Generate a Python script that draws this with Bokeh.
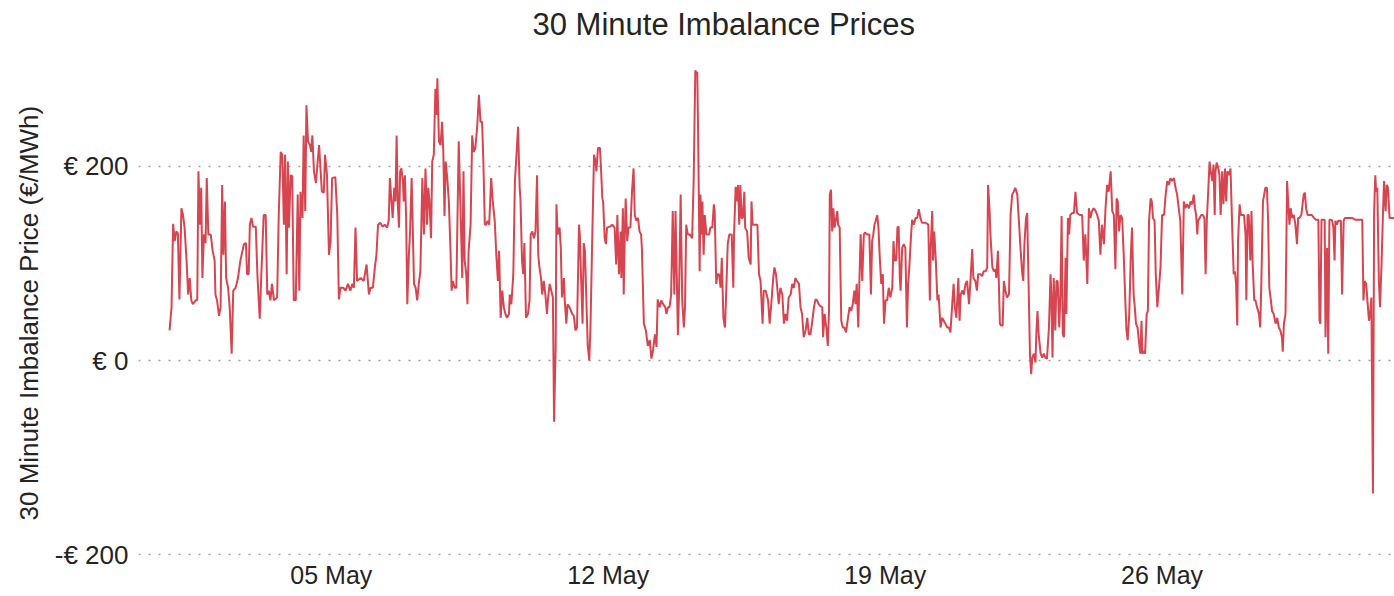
import pandas as pd
from bokeh.plotting import figure
from bokeh.models import Range1d, FixedTicker, ColumnDataSource, Label, Title
from bokeh.embed import file_html
from bokeh.resources import INLINE

# ---- data: (day offset from 01 May 00:00, imbalance price EUR/MWh) ----
week1 = [(-0.09,31),(-0.04,55),(0.00,141),(0.04,123),(0.08,133),(0.12,131),(0.16,63),(0.21,157),(0.25,150),(0.29,137),(0.34,103),(0.38,68),(0.42,85),(0.46,62),(0.50,58),(0.57,62),(0.61,62),(0.64,195),(0.68,140),(0.71,178),(0.74,85),(0.78,130),(0.82,121),(0.85,188),(0.89,130),(0.95,130),(1.00,113),(1.05,103),(1.07,68),(1.11,62),(1.16,46),(1.20,55),(1.24,181),(1.27,109),(1.31,164),(1.34,85),(1.39,75),(1.43,55),(1.48,7),(1.52,72),(1.58,75),(1.64,85),(1.70,103),(1.79,120),(1.84,121),(1.87,89),(1.91,89),(1.94,140),(1.98,147),(2.02,138),(2.09,138),(2.13,89),(2.16,65),(2.19,43),(2.23,89),(2.29,150),(2.34,150),(2.38,68),(2.42,72),(2.46,62),(2.50,79),(2.55,62),(2.63,65),(2.67,150),(2.72,215),(2.76,212),(2.80,140),(2.83,212),(2.87,89),(2.90,205),(2.93,137),(2.97,191),(3.01,190),(3.05,62),(3.10,62),(3.15,171),(3.19,72),(3.22,174),(3.27,147),(3.30,232),(3.34,154),(3.37,263),(3.41,226),(3.46,222),(3.49,215),(3.52,232),(3.56,195),(3.61,183),(3.66,208),(3.69,222),(3.73,195),(3.76,174),(3.81,173),(3.84,212),(3.89,191),(3.94,109),(3.98,123),(4.02,188),(4.10,189),(4.15,150),(4.19,63),(4.23,75),(4.30,75),(4.36,72),(4.42,79),(4.48,72),(4.53,79),(4.57,75),(4.61,137),(4.65,82),(4.74,85),(4.82,82),(4.89,99),(4.95,68)]

week2 = [(4.99,75),(5.05,75),(5.10,96),(5.14,109),(5.18,140),(5.24,142),(5.29,138),(5.35,140),(5.41,137),(5.45,144),(5.48,188),(5.52,164),(5.55,147),(5.59,178),(5.62,164),(5.65,232),(5.68,161),(5.71,137),(5.74,195),(5.77,198),(5.81,185),(5.83,164),(5.86,191),(5.89,147),(5.92,58),(5.96,109),(5.99,133),(6.03,188),(6.06,133),(6.09,79),(6.13,75),(6.17,62),(6.21,79),(6.25,92),(6.30,188),(6.34,130),(6.38,198),(6.42,140),(6.45,178),(6.48,164),(6.52,126),(6.55,205),(6.59,212),(6.63,280),(6.66,253),(6.68,291),(6.72,226),(6.76,222),(6.80,246),(6.83,215),(6.86,149),(6.89,205),(6.93,188),(6.97,164),(7.01,116),(7.04,72),(7.07,82),(7.12,75),(7.16,75),(7.19,150),(7.22,226),(7.26,164),(7.31,85),(7.34,195),(7.37,103),(7.41,89),(7.44,58),(7.47,113),(7.52,140),(7.56,232),(7.60,215),(7.64,219),(7.69,243),(7.73,274),(7.77,246),(7.81,246),(7.84,209),(7.88,140),(7.91,140),(7.95,144),(7.99,140),(8.04,188),(8.08,164),(8.13,144),(8.17,109),(8.21,82),(8.24,113),(8.28,44),(8.32,72),(8.36,55),(8.40,48),(8.44,44),(8.49,48),(8.51,68),(8.55,58),(8.60,89),(8.64,185),(8.67,205),(8.72,241),(8.76,178),(8.78,167),(8.82,103),(8.85,89),(8.88,121),(8.92,44),(8.97,48),(9.01,62),(9.04,130),(9.08,133),(9.12,126),(9.16,133),(9.20,191),(9.23,109),(9.26,96),(9.30,85),(9.33,68),(9.37,82),(9.41,68),(9.45,48),(9.48,65),(9.52,79),(9.56,72),(9.60,65),(9.63,-63),(9.67,13),(9.69,161),(9.72,130),(9.77,137),(9.80,116),(9.83,65),(9.88,85),(9.90,62),(9.94,38),(9.97,58),(10.02,55)]

week3 = [(10.09,48),(10.13,46),(10.17,31),(10.21,34),(10.26,140),(10.28,130),(10.31,89),(10.35,38),(10.38,121),(10.41,113),(10.44,72),(10.48,16),(10.52,0),(10.55,34),(10.59,116),(10.64,212),(10.68,205),(10.70,195),(10.74,219),(10.79,219),(10.82,195),(10.85,167),(10.87,164),(10.91,126),(10.94,120),(10.97,137),(11.04,138),(11.10,140),(11.16,137),(11.20,99),(11.23,150),(11.27,89),(11.31,133),(11.33,85),(11.37,157),(11.39,68),(11.42,133),(11.44,167),(11.48,123),(11.51,137),(11.56,137),(11.60,174),(11.64,198),(11.67,150),(11.71,144),(11.75,147),(11.79,133),(11.83,130),(11.85,116),(11.90,38),(11.95,31),(12.00,15),(12.05,21),(12.09,2),(12.13,10),(12.18,27),(12.22,14),(12.25,63),(12.30,55),(12.34,62),(12.39,58),(12.44,55),(12.47,48),(12.51,55),(12.55,55),(12.59,68),(12.63,154),(12.67,68),(12.70,154),(12.73,92),(12.76,26),(12.79,72),(12.83,171),(12.87,62),(12.91,34),(12.94,55),(12.97,140),(13.01,130),(13.06,130),(13.12,126),(13.16,188),(13.20,299),(13.22,297),(13.25,297),(13.27,239),(13.31,92),(13.33,171),(13.36,130),(13.38,164),(13.41,109),(13.44,150),(13.48,130),(13.51,130),(13.55,130),(13.58,137),(13.63,137),(13.67,161),(13.69,154),(13.73,79),(13.76,89),(13.80,89),(13.84,75),(13.87,106),(13.91,44),(13.95,34),(13.98,68),(14.02,120),(14.06,130),(14.12,130),(14.16,75),(14.18,130),(14.22,179),(14.25,164),(14.28,181),(14.31,140),(14.34,181),(14.37,147),(14.40,147),(14.44,174),(14.46,137),(14.51,133),(14.55,106),(14.60,99),(14.62,164),(14.65,140),(14.71,140),(14.77,140),(14.81,89),(14.85,82),(14.90,38),(14.93,72),(14.98,72),(15.04,62),(15.08,38),(15.12,58),(15.17,85),(15.20,96),(15.24,89)]

week4 = [(15.31,58),(15.35,75),(15.40,68),(15.44,38),(15.48,48),(15.52,41),(15.56,65),(15.61,68),(15.65,79),(15.69,75),(15.73,85),(15.77,82),(15.82,79),(15.86,55),(15.90,48),(15.94,24),(15.99,31),(16.03,44),(16.07,27),(16.11,27),(16.15,38),(16.20,55),(16.24,63),(16.28,62),(16.32,58),(16.36,56),(16.41,55),(16.43,24),(16.47,48),(16.49,41),(16.52,31),(16.55,15),(16.58,51),(16.60,171),(16.63,176),(16.66,133),(16.69,157),(16.72,137),(16.75,144),(16.79,154),(16.81,140),(16.85,137),(16.89,41),(16.93,34),(16.97,34),(17.01,29),(17.06,44),(17.10,55),(17.14,51),(17.18,58),(17.22,72),(17.25,58),(17.28,79),(17.32,34),(17.35,85),(17.38,130),(17.42,82),(17.46,130),(17.49,132),(17.54,130),(17.60,130),(17.64,68),(17.67,123),(17.70,130),(17.73,140),(17.76,144),(17.80,150),(17.83,137),(17.86,109),(17.90,79),(17.94,89),(17.97,38),(18.01,62),(18.05,62),(18.09,75),(18.13,65),(18.18,75),(18.21,123),(18.24,103),(18.28,103),(18.31,137),(18.34,138),(18.37,85),(18.39,72),(18.43,116),(18.47,120),(18.51,116),(18.55,34),(18.58,79),(18.61,96),(18.65,126),(18.68,145),(18.72,140),(18.77,147),(18.81,147),(18.85,156),(18.89,147),(18.93,142),(19.02,142),(19.09,140),(19.13,62),(19.15,116),(19.19,154),(19.21,103),(19.24,133),(19.28,103),(19.32,62),(19.35,68),(19.40,34),(19.44,44),(19.48,41),(19.52,38),(19.57,34),(19.61,34),(19.65,29),(19.69,55),(19.73,79),(19.76,55),(19.80,44),(19.85,85),(19.88,41),(19.91,68),(19.95,72),(19.99,68),(20.03,79),(20.07,82),(20.12,58),(20.16,85),(20.20,115),(20.23,85),(20.28,82),(20.32,72),(20.35,89)]

week5 = [(20.41,89),(20.45,87),(20.49,92),(20.54,92),(20.58,96),(20.60,181),(20.64,154),(20.66,130),(20.71,96),(20.75,92),(20.79,94),(20.81,85),(20.85,113),(20.87,85),(20.90,38),(20.93,36),(20.97,36),(21.00,82),(21.04,72),(21.08,65),(21.13,68),(21.17,150),(21.21,171),(21.25,174),(21.29,178),(21.34,171),(21.38,144),(21.42,116),(21.46,92),(21.49,82),(21.52,120),(21.56,147),(21.59,152),(21.62,89),(21.66,7),(21.69,-14),(21.72,3),(21.76,7),(21.80,-2),(21.82,27),(21.85,51),(21.88,27),(21.93,7),(21.97,3),(22.01,7),(22.05,3),(22.09,2),(22.14,34),(22.18,89),(22.20,68),(22.23,3),(22.26,85),(22.30,31),(22.33,82),(22.36,82),(22.40,34),(22.43,68),(22.46,149),(22.49,27),(22.52,24),(22.56,106),(22.58,48),(22.62,147),(22.65,130),(22.68,150),(22.73,152),(22.77,152),(22.81,174),(22.85,152),(22.92,150),(22.98,150),(23.02,103),(23.06,130),(23.11,79),(23.15,157),(23.19,147),(23.23,154),(23.27,157),(23.32,154),(23.36,150),(23.40,144),(23.44,109),(23.48,140),(23.53,120),(23.57,157),(23.61,181),(23.65,174),(23.70,195),(23.74,154),(23.78,150),(23.82,94),(23.85,167),(23.88,164),(23.91,133),(23.95,150),(23.99,147),(24.03,109),(24.07,62),(24.10,31),(24.13,21),(24.17,48),(24.21,109),(24.24,137),(24.28,68),(24.31,55),(24.34,38),(24.38,34),(24.41,21),(24.45,7),(24.48,41),(24.50,7),(24.54,10),(24.57,7),(24.61,48),(24.64,51),(24.67,144),(24.71,167),(24.74,164),(24.77,147),(24.81,144),(24.84,89),(24.88,55),(24.92,75),(24.96,96),(25.00,150),(25.05,150),(25.09,171),(25.13,185),(25.17,181),(25.21,188),(25.25,185),(25.30,188),(25.34,178),(25.38,171),(25.42,157),(25.46,144),(25.51,68),(25.55,164)]

week6 = [(25.59,157),(25.63,161),(25.68,157),(25.72,164),(25.76,161),(25.80,171),(25.83,157),(25.86,150),(25.89,130),(25.91,144),(25.95,147),(25.99,150),(26.03,150),(26.07,147),(26.10,89),(26.13,144),(26.17,178),(26.20,205),(26.23,195),(26.27,185),(26.30,202),(26.33,150),(26.35,195),(26.38,204),(26.42,198),(26.45,191),(26.48,150),(26.52,195),(26.55,161),(26.59,198),(26.62,164),(26.65,195),(26.69,191),(26.73,198),(26.77,140),(26.81,89),(26.84,92),(26.87,79),(26.90,36),(26.92,123),(26.96,161),(26.99,150),(27.02,150),(27.07,150),(27.11,130),(27.13,62),(27.16,150),(27.19,150),(27.23,103),(27.26,154),(27.29,99),(27.33,62),(27.36,62),(27.40,55),(27.45,48),(27.48,34),(27.51,82),(27.55,164),(27.58,171),(27.61,178),(27.65,178),(27.68,144),(27.71,75),(27.75,62),(27.78,51),(27.82,48),(27.87,38),(27.91,44),(27.95,34),(27.99,31),(28.03,24),(28.05,9),(28.08,38),(28.12,48),(28.16,185),(28.19,161),(28.22,140),(28.25,157),(28.29,147),(28.33,150),(28.37,140),(28.41,120),(28.44,147),(28.47,147),(28.52,150),(28.58,171),(28.61,173),(28.64,157),(28.68,150),(28.73,150),(28.78,150),(28.84,147),(28.89,145),(28.95,145),(28.98,41),(29.00,38),(29.03,145),(29.07,145),(29.11,145),(29.13,24),(29.17,116),(29.20,7),(29.23,145),(29.27,145),(29.30,144),(29.33,137),(29.36,103),(29.38,144),(29.42,140),(29.45,144),(29.48,144),(29.52,144),(29.55,68),(29.59,144),(29.62,147),(29.72,147),(29.80,147),(29.89,145),(29.97,145),(30.06,145),(30.09,62),(30.12,82),(30.16,79),(30.19,62),(30.23,41),(30.26,48),(30.29,65),(30.33,-137),(30.36,154),(30.39,191),(30.41,174),(30.44,178),(30.48,82),(30.51,55),(30.55,103),(30.58,147),(30.61,185),(30.65,154),(30.68,181),(30.71,178),(30.75,147),(30.80,147),(30.86,147)]

y_ticks = [-200, 0, 200]
y_tick_labels = ["-€ 200", "€ 0", "€ 200"]
x_tick_days = [4, 11, 18, 25]
x_tick_labels = ["05 May", "12 May", "19 May", "26 May"]

title_text = "30 Minute Imbalance Prices"
y_label = "30 Minute Imbalance Price (€/MWh)"

# ---- build ----
base = pd.Timestamp("2024-05-01")
series = week1 + week2 + week3 + week4 + week5 + week6
days = [d for d, _ in series]
price = [v for _, v in series]
times = base + pd.to_timedelta(days, unit="D")
src = ColumnDataSource(dict(t=times, price=price))

FONT = "Liberation Sans"
TXT = "#252423"

W, H = 1394, 596
LEFT, BOTTOM = 138, 41
frame_h = H - BOTTOM

p = figure(
    width=W, height=H,
    x_axis_type="datetime",
    x_range=Range1d(base + pd.Timedelta(days=-0.875), base + pd.Timedelta(days=30.875)),
    y_range=Range1d(-201.0, 371.1),
    output_backend="svg", toolbar_location=None,
    min_border_left=LEFT, min_border_right=0, min_border_top=0, min_border_bottom=BOTTOM,
)
p.line("t", "price", source=src, line_color="#D64550", line_width=2)

# chart title drawn as a label inside the (full-height) frame
p.add_layout(Label(
    x=394, y=frame_h - 24, x_units="screen", y_units="screen",
    text=title_text, text_font=FONT, text_font_size="31px",
    text_color=TXT, text_align="left", text_baseline="alphabetic",
))

# y-axis title as a side title so it can be placed along the axis
p.add_layout(Title(
    text=y_label, align="left", offset=35, standoff=16,
    text_font=FONT, text_font_size="26px", text_font_style="normal", text_color=TXT,
), "left")

p.outline_line_color = None
p.background_fill_color = "white"
p.border_fill_color = "white"

# x axis
tick_ms = [(base + pd.Timedelta(days=d)).timestamp() * 1000.0 for d in x_tick_days]
p.xaxis.ticker = FixedTicker(ticks=tick_ms)
p.xaxis.major_label_overrides = {ms: lab for ms, lab in zip(tick_ms, x_tick_labels)}
p.xaxis.axis_line_color = None
p.xaxis.major_tick_line_color = None
p.xaxis.minor_tick_line_color = None
p.xaxis.major_tick_out = 0
p.xaxis.major_tick_in = 0
p.xaxis.major_label_standoff = 5
p.xaxis.major_label_text_font = FONT
p.xaxis.major_label_text_font_size = "25px"
p.xaxis.major_label_text_color = TXT
p.xgrid.grid_line_color = None

# y axis
p.yaxis.ticker = FixedTicker(ticks=y_ticks)
p.yaxis.major_label_overrides = {t: lab for t, lab in zip(y_ticks, y_tick_labels)}
p.yaxis.axis_line_color = None
p.yaxis.major_tick_line_color = None
p.yaxis.minor_tick_line_color = None
p.yaxis.major_tick_out = 0
p.yaxis.major_tick_in = 0
p.yaxis.major_label_standoff = 10
p.yaxis.major_label_text_font = FONT
p.yaxis.major_label_text_font_size = "26px"
p.yaxis.major_label_text_color = TXT

p.ygrid.grid_line_color = "#9e9e9e"
p.ygrid.grid_line_dash = "2 8"
p.ygrid.grid_line_width = 1.5

open("out.html", "w").write(file_html(p, INLINE))
